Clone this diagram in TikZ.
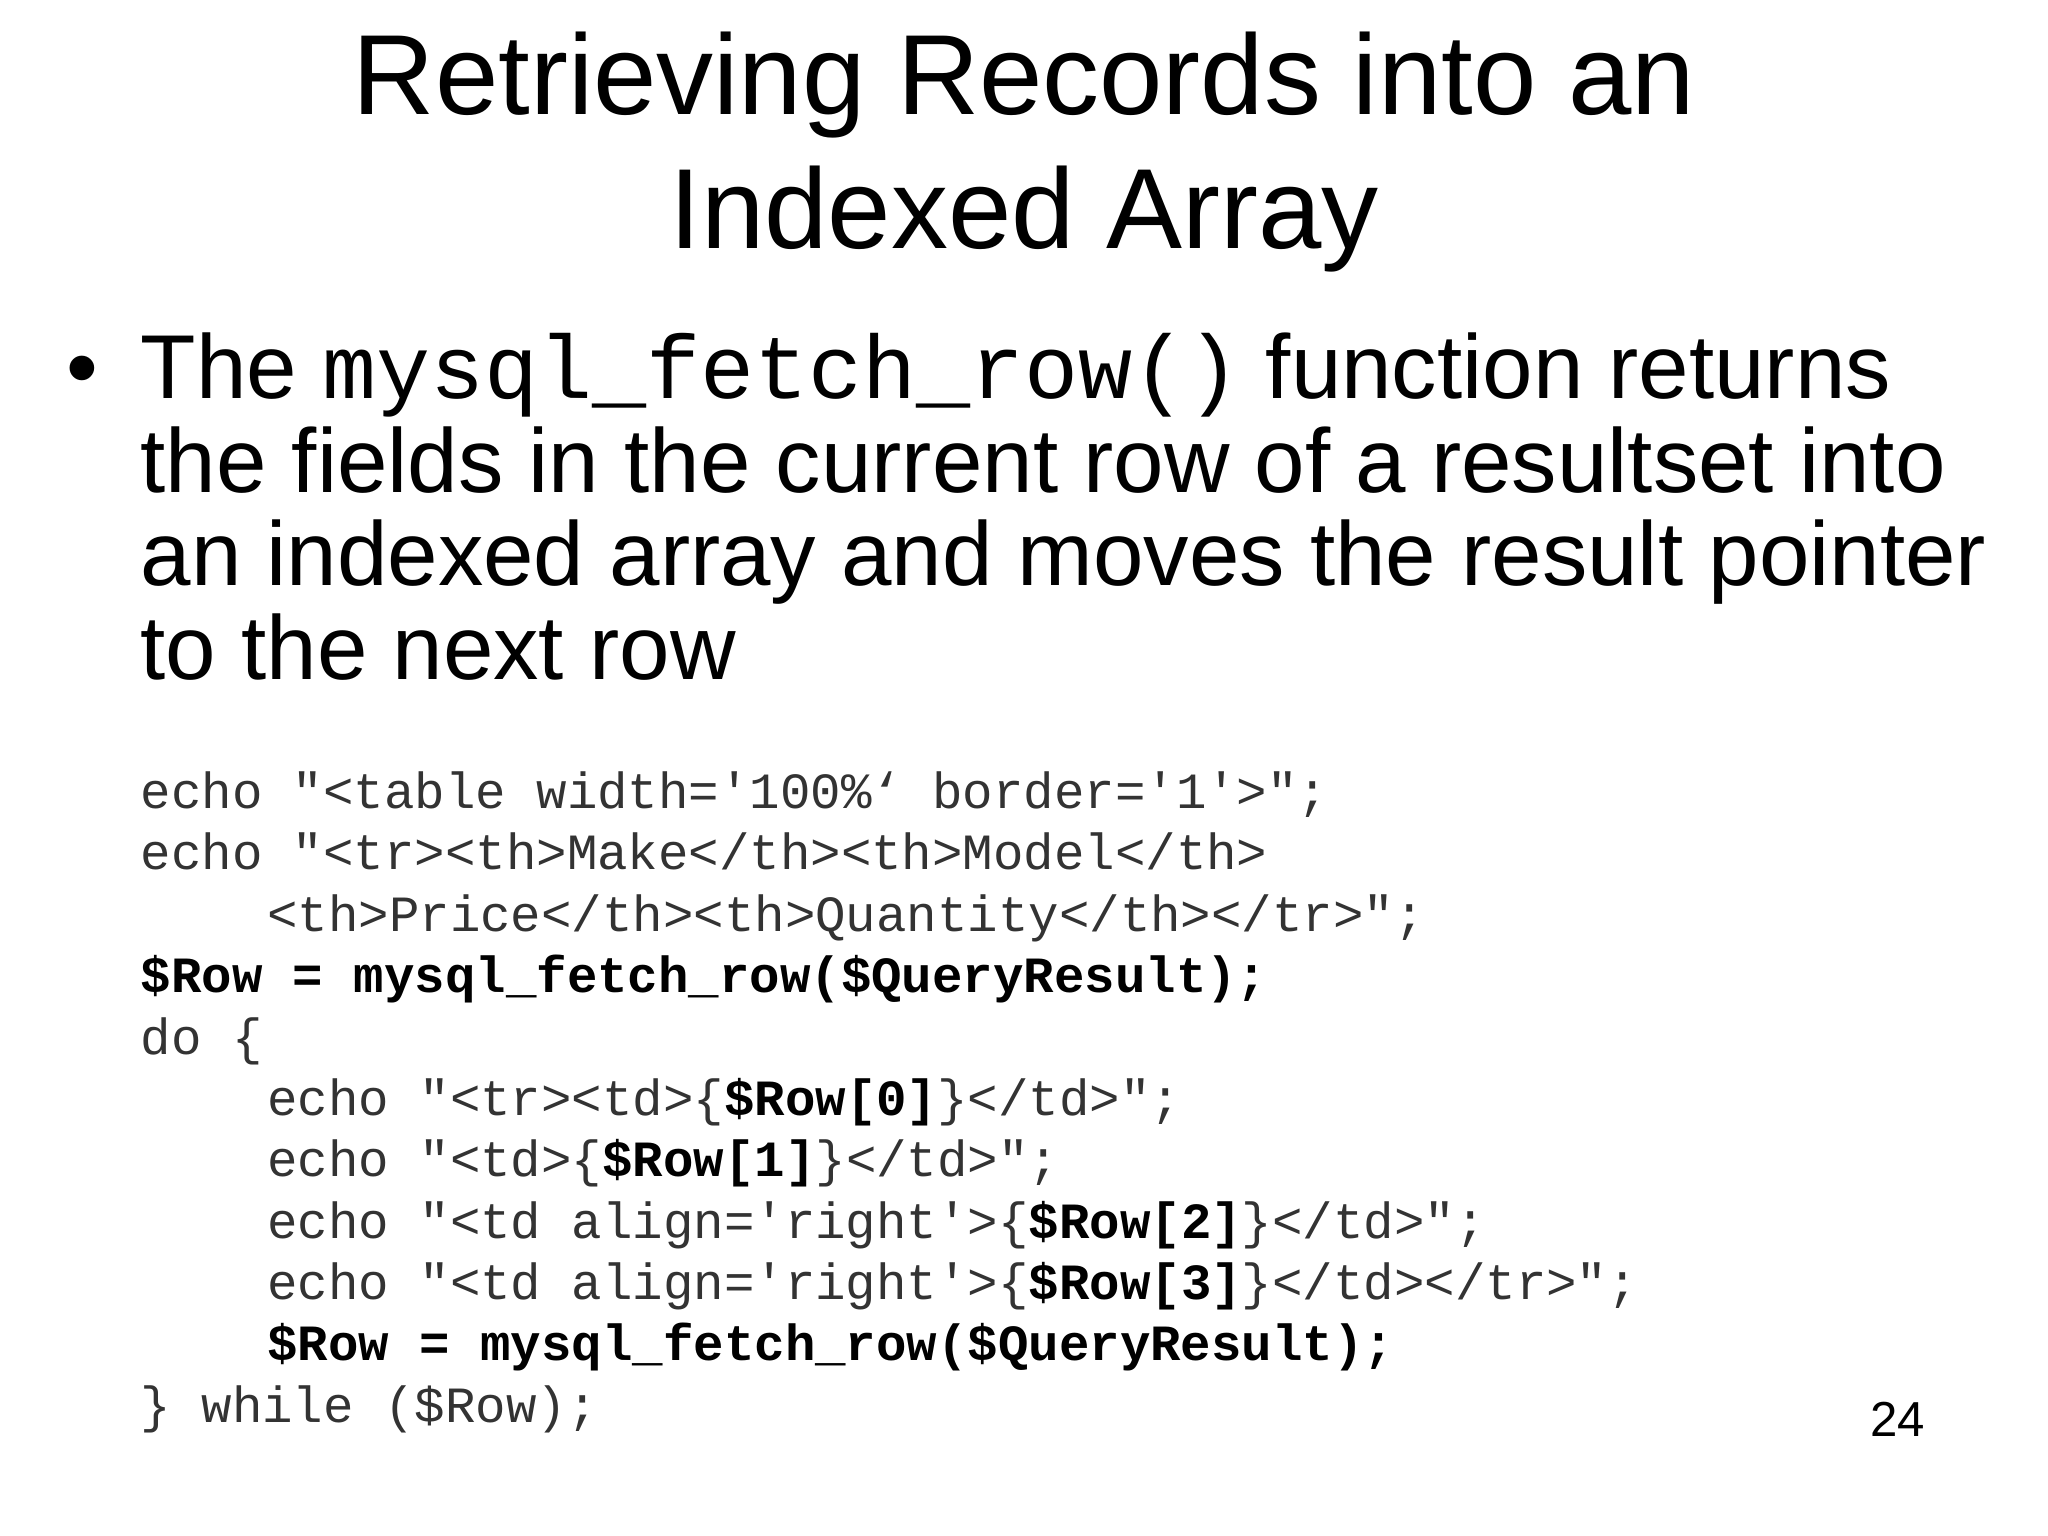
\documentclass[tikz,border=0pt]{standalone}
\usepackage{fontspec}
\setmainfont{Liberation Sans}
\newfontfamily\cf{Liberation Mono}
\begin{document}
\begin{tikzpicture}[x=0.01cm,y=-0.01cm,
  ttl/.style={anchor=base,font=\fontsize{24.8}{29}\selectfont,inner sep=0},
  bul/.style={anchor=base west,font=\fontsize{19.75}{24}\selectfont,inner sep=0},
  cd/.style={anchor=base west,font=\cf\fontsize{11.05}{13}\selectfont,text=black!80,inner sep=0}]
\useasboundingbox[fill=white] (0,0) rectangle (1568,1176);
\node[ttl] (t1) at (784,88) {Retrieving Records into an};
\node[ttl] (t2) at (784,190) {Indexed Array};
\node[bul] (b0) at (50,305) {\textbullet};
\node[bul] (b1) at (107,305) {The {\cf\fontsize{19.6}{24}\selectfont mysql\_fetch\_row()} function returns};
\node[bul] (b2) at (107,377) {the fields in the current row of a resultset into};
\node[bul] (b3) at (107,448) {an indexed array and moves the result pointer};
\node[bul] (b4) at (107,520) {to the next row};
\node[cd] (c1) at (107,619) {echo "<table width='100\%‘ border='1'>";};
\node[cd] (c2) at (107,666) {echo "<tr><th>Make</th><th>Model</th>};
\node[cd] (c3) at (204,713) {<th>Price</th><th>Quantity</th></tr>";};
\node[cd] (c4) at (107,760) {\textcolor{black}{\bfseries \$Row = mysql\_fetch\_row(\$QueryResult);}};
\node[cd] (c5) at (107,807) {do \{};
\node[cd] (c6) at (204,854) {echo "<tr><td>\{\textcolor{black}{\bfseries\$Row[0]}\}</td>";};
\node[cd] (c7) at (204,901) {echo "<td>\{\textcolor{black}{\bfseries\$Row[1]}\}</td>";};
\node[cd] (c8) at (204,948) {echo "<td align='right'>\{\textcolor{black}{\bfseries\$Row[2]}\}</td>";};
\node[cd] (c9) at (204,995) {echo "<td align='right'>\{\textcolor{black}{\bfseries\$Row[3]}\}</td></tr>";};
\node[cd] (c10) at (204,1042) {\textcolor{black}{\bfseries \$Row = mysql\_fetch\_row(\$QueryResult);}};
\node[cd] (c11) at (107,1089) {\} while (\$Row);};
\node[anchor=base,font=\fontsize{10.7}{12}\selectfont,inner sep=0] (pg) at (1453,1100) {24};
\end{tikzpicture}
\end{document}
